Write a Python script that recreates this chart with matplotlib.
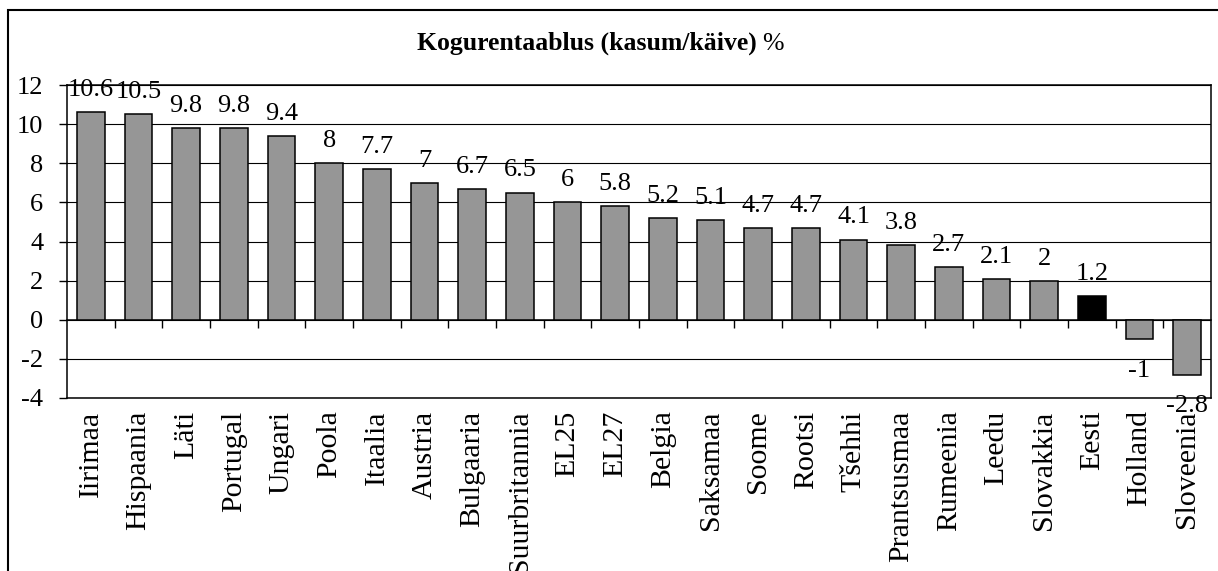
import numpy as np
import matplotlib.pyplot as plt
from matplotlib.patches import Rectangle

plt.rcParams['font.family'] = ['Liberation Serif', 'DejaVu Serif']

riigid = ["Iirimaa", "Hispaania", "Läti", "Portugal", "Ungari", "Poola", "Itaalia",
          "Austria", "Bulgaaria", "Suurbritannia", "EL25", "EL27", "Belgia", "Saksamaa",
          "Soome", "Rootsi", "Tšehhi", "Prantsusmaa", "Rumeenia", "Leedu", "Slovakkia",
          "Eesti", "Holland", "Sloveenia"]
rentaablus = [10.6, 10.5, 9.8, 9.8, 9.4, 8, 7.7, 7, 6.7, 6.5, 6, 5.8, 5.2, 5.1,
              4.7, 4.7, 4.1, 3.8, 2.7, 2.1, 2, 1.2, -1, -2.8]
esile = "Eesti"
y_ticks = [-4, -2, 0, 2, 4, 6, 8, 10, 12]

fig = plt.figure(figsize=(12.18, 5.71), dpi=100)
ax = fig.add_axes([67/1218, 1 - 398/571, (1211 - 67)/1218, (398 - 85)/571])

x = np.arange(len(riigid))
colors = ["black" if r == esile else "#969696" for r in riigid]
bars = ax.bar(x, rentaablus, width=0.58, color=colors, edgecolor="black",
              linewidth=1.1, zorder=3)
# positiivsed üles, negatiivsed alla
ax.bar_label(bars, labels=[f"{v:g}" if v >= 0 else "" for v in rentaablus],
             padding=8, fontsize=19, zorder=4, clip_on=False)
ax.bar_label(bars, labels=[f"{v:g}" if v < 0 else "" for v in rentaablus],
             padding=15, fontsize=19, zorder=4, clip_on=False)

ax.set_xlim(-0.5, len(riigid) - 0.5)
ax.set_ylim(-4, 12)
ax.set_yticks(y_ticks)
ax.set_yticklabels([str(t) for t in y_ticks], fontsize=19)
ax.tick_params(axis="y", direction="out", length=6, width=1, pad=11)
ax.grid(axis="y", color="black", linewidth=0.8, zorder=1)

ax.set_xticks(x)
ax.set_xticklabels(riigid, rotation=90, fontsize=21.5, va="top")
ax.tick_params(axis="x", length=0, pad=9)

for s in ax.spines.values():
    s.set_linewidth(1.1)

# kategooriatelg nulli kohal, jaotised kategooriate vahel
sec = ax.secondary_xaxis(0.25)
sec.set_xticks(x[:-1] + 0.5)
sec.set_xticklabels([])
sec.tick_params(direction="out", length=6, width=1)
sec.spines["bottom"].set_linewidth(1.1)

# pealkiri
t1 = fig.text(417/1218, 1 - 43/571, "Kogurentaablus (kasum/käive)", fontsize=18.5,
              fontweight="bold", ha="left", va="center")
ax.annotate("%", xy=(1, 0), xycoords=t1, xytext=(4, 0), textcoords="offset points",
            fontsize=18.5, ha="left", va="bottom")

# raam ümber joonise
fig.patches.append(Rectangle((8/1218, -0.1), 1.1, 1 - 10/571 + 0.1,
                             transform=fig.transFigure, fill=False,
                             edgecolor="black", linewidth=1.5))

fig.savefig("out.png", dpi=100)
